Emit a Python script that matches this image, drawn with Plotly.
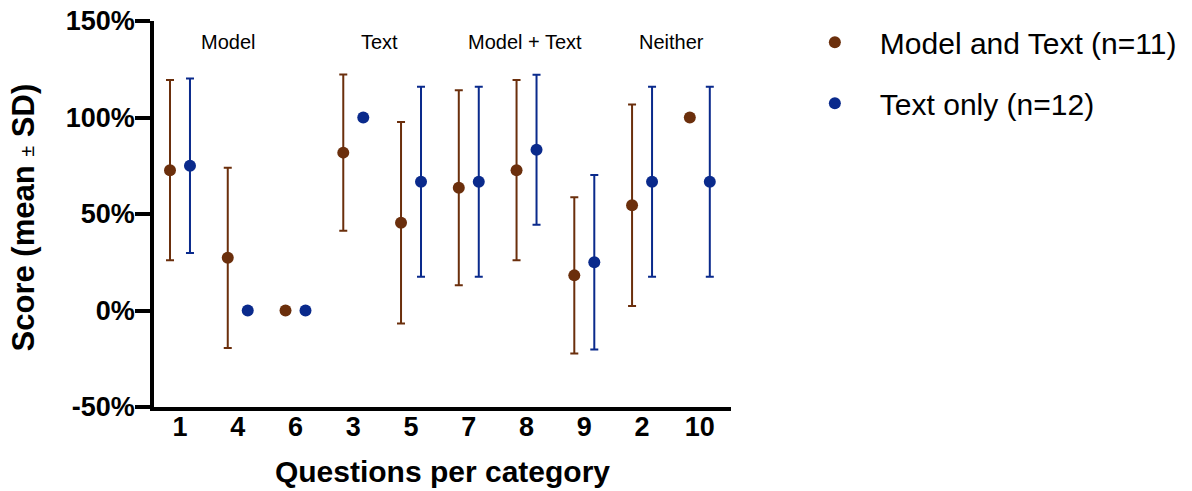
import plotly.graph_objects as go

questions = ["1", "4", "6", "3", "5", "7", "8", "9", "2", "10"]
mt_mean = [72.7, 27.3, 0, 81.8, 45.5, 63.6, 72.7, 18.2, 54.5, 100]
mt_sd = [46.7, 46.7, 0, 40.5, 52.2, 50.5, 46.7, 40.5, 52.2, 0]
to_mean = [75.0, 0, 0, 100, 66.7, 66.7, 83.3, 25.0, 66.7, 66.7]
to_sd = [45.2, 0, 0, 0, 49.2, 49.2, 38.9, 45.2, 49.2, 49.2]
group_labels = ["Model", "Text", "Model + Text", "Neither"]
group_label_x = [0.83, 3.46, 5.97, 8.51]
y_ticks = [-50, 0, 50, 100, 150]

BROWN = "#6B2F0C"
BLUE = "#0A2A8C"
FONT = "Liberation Sans, Arial, sans-serif"
off = 0.173

idx = list(range(len(questions)))

fig = go.Figure()
fig.add_trace(go.Scatter(
    x=[i - off for i in idx], y=mt_mean, mode="markers",
    name="Model and Text (n=11)", legendgroup="a",
    marker=dict(color=BROWN, size=12),
    error_y=dict(type="data", array=mt_sd, visible=True, color=BROWN, thickness=2, width=4),
))
fig.add_trace(go.Scatter(
    x=[i + off for i in idx], y=to_mean, mode="markers",
    name="Text only (n=12)", legendgroup="b",
    marker=dict(color=BLUE, size=12),
    error_y=dict(type="data", array=to_sd, visible=True, color=BLUE, thickness=2, width=4),
))

for lab, gx in zip(group_labels, group_label_x):
    fig.add_annotation(x=gx, y=139, xref="x", yref="y", text=lab, showarrow=False,
                       font=dict(family=FONT, size=20, color="#000000"))

# y-axis title as rotated annotation
fig.add_annotation(
    x=-0.226, y=0.49, xref="paper", yref="paper", xanchor="center", yanchor="middle",
    textangle=-90, showarrow=False,
    text='<b>Score (mean </b><span style="font-size:20px">±</span><b> SD)</b>',
    font=dict(family=FONT, size=31, color="#000000"),
)

fig.update_layout(
    width=1192, height=491,
    margin=dict(l=154, r=461, t=21, b=84, autoexpand=False),
    paper_bgcolor="white", plot_bgcolor="white",
    font=dict(family=FONT, color="#000000"),
    showlegend=True,
    legend=dict(x=1.102, y=0.967, xanchor="left", yanchor="top", yref="container",
                font=dict(family=FONT, size=30, color="#000000"),
                itemwidth=80, tracegroupgap=19, bgcolor="rgba(0,0,0,0)"),
    xaxis=dict(
        range=[-0.45, 9.54], tickmode="array", tickvals=idx, ticktext=questions,
        showgrid=False, zeroline=False, showline=True, linecolor="#000000", linewidth=3.5,
        ticks="", tickfont=dict(family=FONT, size=27, weight="bold"),
        ticklabelstandoff=-7, automargin=False,
        title=dict(text="Questions per category", font=dict(family=FONT, size=30, weight="bold"), standoff=21),
    ),
    yaxis=dict(
        range=[-50, 150], tickmode="array", tickvals=y_ticks,
        ticktext=[f"{v}%" for v in y_ticks],
        showgrid=False, zeroline=False, showline=True, linecolor="#000000", linewidth=3.5,
        ticks="outside", ticklen=15, tickwidth=3.5, tickcolor="#000000",
        tickfont=dict(family=FONT, size=27, weight="bold"),
        ticklabelstandoff=-5, automargin=False,
    ),
)

fig.write_html("out.html")
